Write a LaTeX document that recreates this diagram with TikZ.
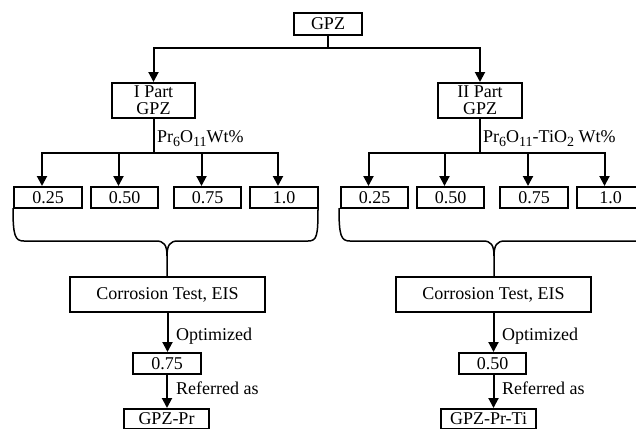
\documentclass[tikz,border=0pt]{standalone}
\usepackage{fontspec}
\setmainfont{Liberation Serif}
\usetikzlibrary{arrows.meta,calc}
\newcommand{\sbs}[1]{\raisebox{-4.5pt}{\fontsize{14}{14}\selectfont #1}}
\begin{document}
\begin{tikzpicture}[x=1pt,y=-1pt,
  box/.style={draw,line width=2pt,inner sep=0pt,align=center,font=\fontsize{18}{17}\selectfont},
  conn/.style={line width=2pt,-{Triangle[length=10pt,width=10pt]}},
  plain/.style={line width=2pt},
  bracepath/.style={line width=1.5pt},
  lab/.style={anchor=base west,inner sep=0pt,font=\fontsize{18}{18}\selectfont}]
\useasboundingbox (0,0) rectangle (636,428);
\clip (0,0) rectangle (636,428);

% top
\node[box,minimum width=68pt,minimum height=22pt] (top) at (328,24) {GPZ};
\node[box,minimum width=83pt,minimum height=35pt] (p1) at (153.5,100.5) {I Part\\GPZ};
\node[box,minimum width=84pt,minimum height=35pt] (p2) at (480,100.5) {II Part\\GPZ};
\coordinate (tj) at (328,48.5);
\draw[plain] (top.south) -- (tj);
\draw[conn] (tj) -| (p1.north);
\draw[conn] (tj) -| (p2.north);

% left concentrations
\node[box,minimum width=68pt,minimum height=21pt] (a1) at (48,197.5) {0.25};
\node[box,minimum width=67pt,minimum height=21pt] (a2) at (124.5,197.5) {0.50};
\node[box,minimum width=67pt,minimum height=21pt] (a3) at (207.5,197.5) {0.75};
\node[box,minimum width=68pt,minimum height=21pt] (a4) at (284,197.5) {1.0};
\coordinate (j1) at (153.5,153);
\draw[plain] (p1.south) -- (j1);
\foreach \n in {a1,a2,a3,a4}
  \draw[conn] (j1) -| ([xshift=-6pt]\n.north);
\node[lab] (l1) at (157,142) {Pr\sbs{6}O\sbs{11}Wt\%};

% right concentrations
\node[box,minimum width=67pt,minimum height=21pt] (b1) at (374.5,197.5) {0.25};
\node[box,minimum width=67pt,minimum height=21pt] (b2) at (450.5,197.5) {0.50};
\node[box,minimum width=68pt,minimum height=21pt] (b3) at (534,197.5) {0.75};
\node[box,minimum width=67pt,minimum height=21pt] (b4) at (610.5,197.5) {1.0};
\coordinate (j2) at (480,153);
\draw[plain] (p2.south) -- (j2);
\foreach \n in {b1,b2,b3,b4}
  \draw[conn] (j2) -| ([xshift=-6pt]\n.north);
\node[lab] (l2) at (483,142) {Pr\sbs{6}O\sbs{11}-TiO\sbs{2} Wt\%};

% corrosion boxes
\node[box,minimum width=195pt,minimum height=35pt] (c1) at (167.5,294.5) {Corrosion Test, EIS};
\node[box,minimum width=195pt,minimum height=35pt] (c2) at (493.5,294.5) {Corrosion Test, EIS};

% braces
\coordinate (k1) at (167,256);
\draw[bracepath] (13,208) .. controls (13,236) and (15,241) .. (24,241) -- (156,241)
  .. controls (164,241) and (167,245) .. (k1) -- (k1 |- c1.north);
\draw[bracepath] (k1) .. controls (167,245) and (170,241) .. (178,241) -- (308,241)
  .. controls (317,241) and (318,236) .. (318,208);
\coordinate (k2) at (494,256);
\draw[bracepath] (339,208) .. controls (339,236) and (341,241) .. (350,241) -- (483,241)
  .. controls (491,241) and (494,245) .. (k2) -- (k2 |- c2.north);
\draw[bracepath] (k2) .. controls (494,245) and (497,241) .. (505,241) -- (650,241);

% optimized
\node[box,minimum width=68pt,minimum height=21pt] (o1) at (167,363.5) {0.75};
\node[box,minimum width=67pt,minimum height=21pt] (o2) at (492.5,363.5) {0.50};
\draw[conn] (c1.south) -- (c1.south |- o1.north);
\draw[conn] (c2.south) -- (c2.south |- o2.north);
\node[lab] (op1) at (176,340) {Optimized};
\node[lab] (op2) at (502,340) {Optimized};

% final
\node[box,minimum width=85pt,minimum height=20pt] (f1) at (166.5,419) {GPZ-Pr};
\node[box,minimum width=95pt,minimum height=20pt] (f2) at (488.5,419) {GPZ-Pr-Ti};
\draw[conn] (o1.south) -- (o1.south |- f1.north);
\draw[conn] ([xshift=1pt]o2.south) -- ([xshift=1pt]o2.south |- f2.north);
\node[lab] (r1) at (176,394) {Referred as};
\node[lab] (r2) at (502,394) {Referred as};
\end{tikzpicture}
\end{document}
